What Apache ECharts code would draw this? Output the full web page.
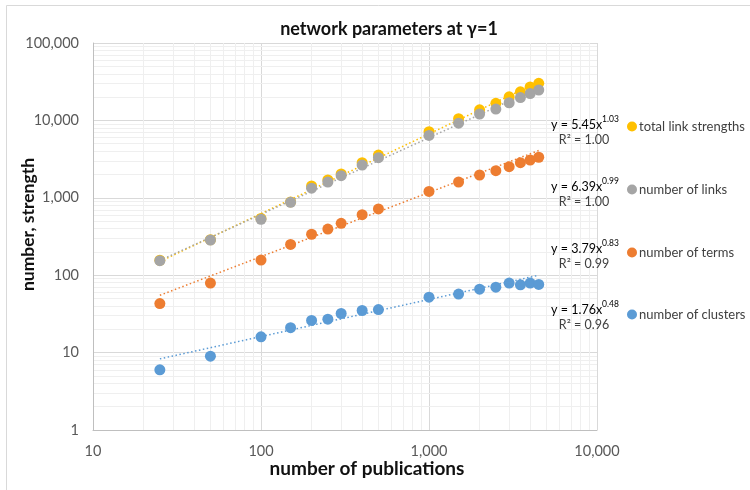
<!DOCTYPE html>
<html>
<head>
<meta charset="utf-8">
<script src="https://cdn.jsdelivr.net/npm/echarts@6/dist/echarts.min.js"></script>
<style>html,body{margin:0;padding:0;background:#fff;}#chart{width:750px;height:490px;}</style>
</head>
<body>
<div id="chart"></div>
<script>
// ---- data ----
const publications = [25, 50, 100, 150, 200, 250, 300, 400, 500, 1000, 1500, 2000, 2500, 3000, 3500, 4000, 4500];
const totalLinkStrengths = [156, 287, 540, 885, 1420, 1700, 2030, 2840, 3570, 7150, 10500, 13700, 16600, 20200, 23400, 27000, 30100];
const numberOfLinks = [154, 285, 527, 875, 1330, 1600, 1930, 2650, 3300, 6400, 9200, 12100, 14000, 16900, 19700, 22200, 24700];
const numberOfTerms = [43, 79, 157, 250, 338, 395, 468, 605, 717, 1210, 1600, 1970, 2240, 2520, 2840, 3080, 3340];
const numberOfClusters = [6, 9, 16, 21, 26, 27, 32, 35, 36, 52, 57, 66, 70, 79, 75, 79, 76];

// trendline end points (x = 25 and x = 4500)
const trendX = [25, 4500];
const trendTotal = [150, 31500];
const trendLinks = [155, 26500];
const trendTerms = [55, 4080];
const trendClusters = [8.3, 99.8];

const seriesNames = ['total link strengths', 'number of links', 'number of terms', 'number of clusters'];
const eqCoef = ['5.45', '6.39', '3.79', '1.76'];
const eqExp = ['1.03', '0.99', '0.83', '0.48'];
const eqR2 = ['1.00', '1.00', '0.99', '0.96'];

const xTickLabels = ['10', '100', '1,000', '10,000'];
const yTickLabels = ['1', '10', '100', '1,000', '10,000', '100,000'];

// ---- styling ----
const FONT = 'Lato';
const colors = ['#FFC000', '#A5A5A5', '#ED7D31', '#5B9BD5'];
const legendCenters = [127, 190, 253, 315];
const eqCenters = [123, 185, 247, 308];

const chart = echarts.init(document.getElementById('chart'), null, {renderer: 'canvas'});

function pairs(xs, ys) { return xs.map((x, i) => [x, ys[i]]); }

const pointSets = [totalLinkStrengths, numberOfLinks, numberOfTerms, numberOfClusters];
const trendSets = [trendTotal, trendLinks, trendTerms, trendClusters];

// minor grid lines (2..9 within each decade)
const minorX = [], minorY = [];
for (let d = 10; d < 10000; d *= 10) for (let k = 2; k <= 9; k++) minorX.push({xAxis: d * k});
for (let d = 1; d < 100000; d *= 10) for (let k = 2; k <= 9; k++) minorY.push({yAxis: d * k});

const series = [];
series.push({
  type: 'line', name: 'minor', data: [[10, 1]], showSymbol: false, symbol: 'none',
  lineStyle: {opacity: 0}, z: 0, silent: true,
  markLine: {
    z: 0, silent: true, symbol: ['none', 'none'], label: {show: false}, animation: false,
    lineStyle: {type: 'solid', color: '#EFEFEF', width: 1},
    data: minorX.concat(minorY)
  }
});
trendSets.forEach((t, i) => {
  series.push({
    type: 'line', name: seriesNames[i] + ' trend', data: pairs(trendX, t),
    showSymbol: false, symbol: 'none', silent: true, z: 2,
    lineStyle: {color: colors[i], width: 1.5, type: [1.5, 2.5]}
  });
});
pointSets.forEach((p, i) => {
  series.push({
    type: 'scatter', name: seriesNames[i], data: pairs(publications, p),
    symbol: 'circle', symbolSize: 11, z: 3,
    itemStyle: {color: colors[i], opacity: 1}
  });
});

const legends = seriesNames.map((n, i) => ({
  data: [n], orient: 'vertical', left: 627, top: legendCenters[i] - 7, padding: 0,
  icon: 'circle', itemWidth: 10, itemHeight: 10, itemGap: 0, selectedMode: false,
  textStyle: {fontFamily: FONT, fontSize: 13, color: '#404040', padding: [0, 0, 0, -3]}
}));

const graphics = [
  {type: 'rect', shape: {x: 6.5, y: 5.5, width: 800, height: 600}, style: {fill: 'none', stroke: '#D9D9D9', lineWidth: 1}, silent: true, z: -10}
];
seriesNames.forEach((n, i) => {
  graphics.push({
    type: 'text', x: 585, y: eqCenters[i],
    style: {
      text: '{a|y = ' + eqCoef[i] + 'x}{s|' + eqExp[i] + '}',
      align: 'center', verticalAlign: 'middle',
      rich: {
        a: {fontFamily: FONT, fontSize: 12.5, color: '#404040', lineHeight: 16, verticalAlign: 'bottom'},
        s: {fontFamily: FONT, fontSize: 8.5, color: '#404040', lineHeight: 16, verticalAlign: 'top'}
      }
    }, z: 10
  });
  graphics.push({
    type: 'text', x: 584, y: eqCenters[i] + 17,
    style: {text: 'R² = ' + eqR2[i], align: 'center', verticalAlign: 'middle',
      fontFamily: FONT, fontSize: 12.5, fill: '#404040'}, z: 10
  });
});

const option = {
  animation: false,
  backgroundColor: '#fff',
  title: {
    text: 'network parameters at γ=1', left: 389, top: 20, textAlign: 'center', padding: 0,
    textStyle: {fontFamily: FONT, fontWeight: 'bold', fontSize: 18, color: '#111'}
  },
  legend: legends,
  grid: {left: 93, right: 153, top: 43, bottom: 60, containLabel: false, outerBoundsMode: 'none'},
  xAxis: {
    type: 'log', logBase: 10, min: 10, max: 10000,
    axisLine: {show: true, lineStyle: {color: '#BFBFBF'}},
    axisTick: {show: false},
    axisLabel: {fontFamily: FONT, fontSize: 14.5, color: '#595959', margin: 14,
      formatter: v => xTickLabels[Math.round(Math.log10(v)) - 1]},
    splitLine: {show: true, lineStyle: {color: '#D9D9D9'}},
    name: 'number of publications', nameLocation: 'middle', nameGap: 29, nameMoveOverlap: false,
    nameTextStyle: {fontFamily: FONT, fontWeight: 'bold', fontSize: 19, color: '#111', padding: [0, 0, 0, 44]}
  },
  yAxis: {
    type: 'log', logBase: 10, min: 1, max: 100000,
    axisLine: {show: true, lineStyle: {color: '#BFBFBF'}},
    axisTick: {show: false},
    axisLabel: {fontFamily: FONT, fontSize: 14.5, color: '#595959', margin: 14,
      formatter: v => yTickLabels[Math.round(Math.log10(v))]},
    splitLine: {show: true, lineStyle: {color: '#D9D9D9'}},
    name: 'number, strength', nameLocation: 'middle', nameGap: 56, nameRotate: 90, nameMoveOverlap: false,
    nameTextStyle: {fontFamily: FONT, fontWeight: 'bold', fontSize: 17.5, color: '#111', padding: [0, 0, 0, 24]}
  },
  graphic: graphics,
  series: series
};
chart.setOption(option);
</script>
</body>
</html>
